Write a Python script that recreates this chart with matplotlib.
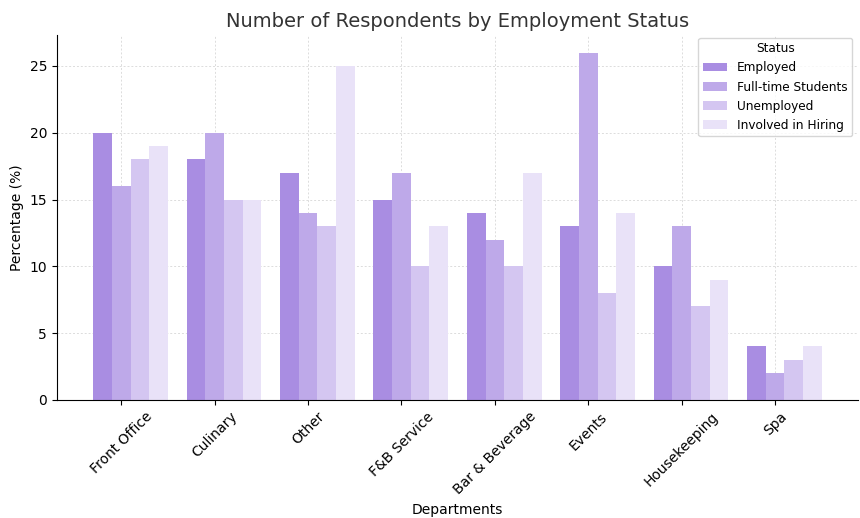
import numpy as np
import matplotlib
matplotlib.use("Agg")
import matplotlib.pyplot as plt

departments = ["Front Office", "Culinary", "Other", "F&B Service",
               "Bar & Beverage", "Events", "Housekeeping", "Spa"]
statuses = ["Employed", "Full-time Students", "Unemployed", "Involved in Hiring"]
employed = [20, 18, 17, 15, 14, 13, 10, 4]
students = [16, 20, 14, 17, 12, 26, 13, 2]
unemployed = [18, 15, 13, 10, 10, 8, 7, 3]
hiring = [19, 15, 25, 13, 17, 14, 9, 4]

colors = ["#a98de2", "#bea9e9", "#d4c6f1", "#e9e2f8"]
series = [employed, students, unemployed, hiring]

fig = plt.figure(figsize=(8.6, 5.18), dpi=100)
ax = fig.add_axes([0.066, 0.228, 0.932, 0.704])

x = np.arange(len(departments))
w = 0.2
for k, (vals, name) in enumerate(zip(series, statuses)):
    ax.bar(x + (k - 1) * w, vals, w, color=colors[k], label=name, zorder=2)

ax.set_xticks(x)
ax.set_xticklabels(departments, rotation=45, ha="center", fontsize=10)
ax.tick_params(axis="y", labelsize=10)
ax.set_ylabel("Percentage (%)", fontsize=10)
ax.set_xlabel("Departments", fontsize=10)
ax.set_title("Number of Respondents by Employment Status", fontsize=14, color="#333333")
ax.grid(True, linestyle="--", color="#dcdcdc", linewidth=0.7, dashes=(2, 2), zorder=0)
ax.spines["top"].set_visible(False)
ax.spines["right"].set_visible(False)
ax.set_yticks([0, 5, 10, 15, 20, 25])

leg = ax.legend(title="Status", loc="upper right", fontsize=8.7, title_fontsize=8.7,
                frameon=True, bbox_to_anchor=(1.0, 1.01))

fig.savefig("out.png", dpi=100)
